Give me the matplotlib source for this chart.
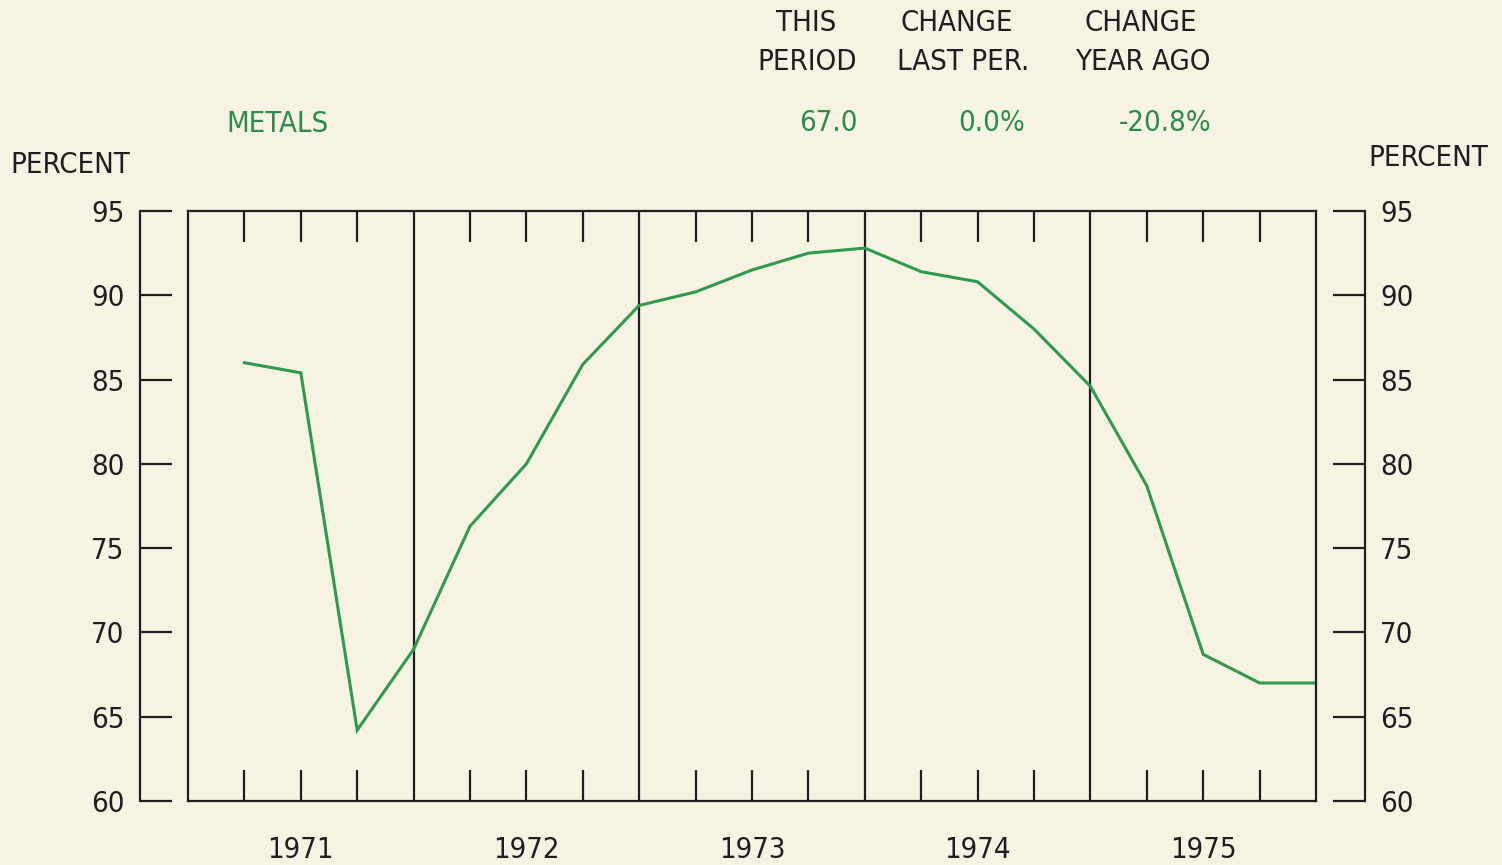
import matplotlib
matplotlib.use("Agg")
from matplotlib import pyplot as plt
from matplotlib import transforms
import numpy as np

# quarterly values, 1971 Q1 .. 1975 Q4 (plotted at end of each quarter)
quarters = np.arange(1, 21)
metals = [86.0, 85.4, 64.2, 69.0, 76.3, 80.0, 85.9, 89.4,
          90.2, 91.5, 92.5, 92.8, 91.4, 90.8, 88.0, 84.6,
          78.7, 68.7, 67.0, 67.0]
years = ['1971', '1972', '1973', '1974', '1975']
yticks = [60, 65, 70, 75, 80, 85, 90, 95]

W, H = 1502, 865
bg = '#f6f3e3'
ink = '#1e1e22'
green = '#2e9a4c'
tgreen = '#2a8c46'
plt.rcParams['font.family'] = ['DejaVu Sans']
plt.rcParams['font.stretch'] = 'condensed'

fig = plt.figure(figsize=(W / 100, H / 100), dpi=100, facecolor=bg)

def fx(px):
    return px / W

def fy(py):
    return 1 - py / H

bottom = fy(801)
height = fy(211) - bottom

# outer scale axes (left and right percent scales)
ax2 = fig.add_axes([fx(140), bottom, fx(1365) - fx(140), height])
ax2.patch.set_visible(False)
ax2.set_ylim(60, 95)
ax2.set_xticks([])
ax2.set_yticks(yticks)
ax2.spines['top'].set_visible(False)
ax2.spines['bottom'].set_visible(False)
for s in ('left', 'right'):
    ax2.spines[s].set_color(ink)
    ax2.spines[s].set_linewidth(1.6)
ax2.tick_params(axis='y', direction='in', length=23, width=1.6, color=ink,
                left=True, right=True, labelleft=True, labelright=True,
                pad=11, labelsize=21, labelcolor=ink)

# main plot box
ax = fig.add_axes([fx(188), bottom, fx(1316) - fx(188), height])
ax.patch.set_visible(False)
ax.set_xlim(0, 20)
ax.set_ylim(60, 95)
ax.set_yticks([])
for s in ax.spines.values():
    s.set_color(ink)
    s.set_linewidth(1.6)
qt = [q for q in range(1, 20) if q % 4 != 0]
ax.set_xticks(qt)
ax.set_xticklabels([])
ax.tick_params(axis='x', which='major', direction='in', length=22, width=1.6,
               color=ink, top=True, bottom=True)
for b in range(4, 20, 4):
    ax.axvline(b, color=ink, lw=1.6)

# year labels centred under each year
tr = transforms.blended_transform_factory(ax.transData, fig.transFigure)
for i, yr in enumerate(years):
    ax.text(4 * i + 2, fy(850), yr, transform=tr, fontsize=21, color=ink,
            ha='center', va='center')

ax.plot(quarters, metals, color=green, lw=2.2, solid_joinstyle='miter')

# header text
fs = 21
fig.text(fx(10), fy(165), 'PERCENT', fontsize=fs, color=ink, ha='left', va='center')
fig.text(fx(1488), fy(158), 'PERCENT', fontsize=fs, color=ink, ha='right', va='center')
fig.text(fx(226), fy(124), 'METALS', fontsize=fs, color=tgreen, ha='left', va='center')

fig.text(fx(806), fy(23), 'THIS', fontsize=fs, color=ink, ha='center', va='center')
fig.text(fx(807), fy(62), 'PERIOD', fontsize=fs, color=ink, ha='center', va='center')
fig.text(fx(957), fy(23), 'CHANGE', fontsize=fs, color=ink, ha='center', va='center')
fig.text(fx(963), fy(62), 'LAST PER.', fontsize=fs, color=ink, ha='center', va='center')
fig.text(fx(1141), fy(23), 'CHANGE', fontsize=fs, color=ink, ha='center', va='center')
fig.text(fx(1143), fy(62), 'YEAR AGO', fontsize=fs, color=ink, ha='center', va='center')

fig.text(fx(858), fy(123), '67.0', fontsize=fs, color=tgreen, ha='right', va='center')
fig.text(fx(1025), fy(123), '0.0%', fontsize=fs, color=tgreen, ha='right', va='center')
fig.text(fx(1211), fy(123), '-20.8%', fontsize=fs, color=tgreen, ha='right', va='center')

plt.savefig('out.png', dpi=100, facecolor=bg)
